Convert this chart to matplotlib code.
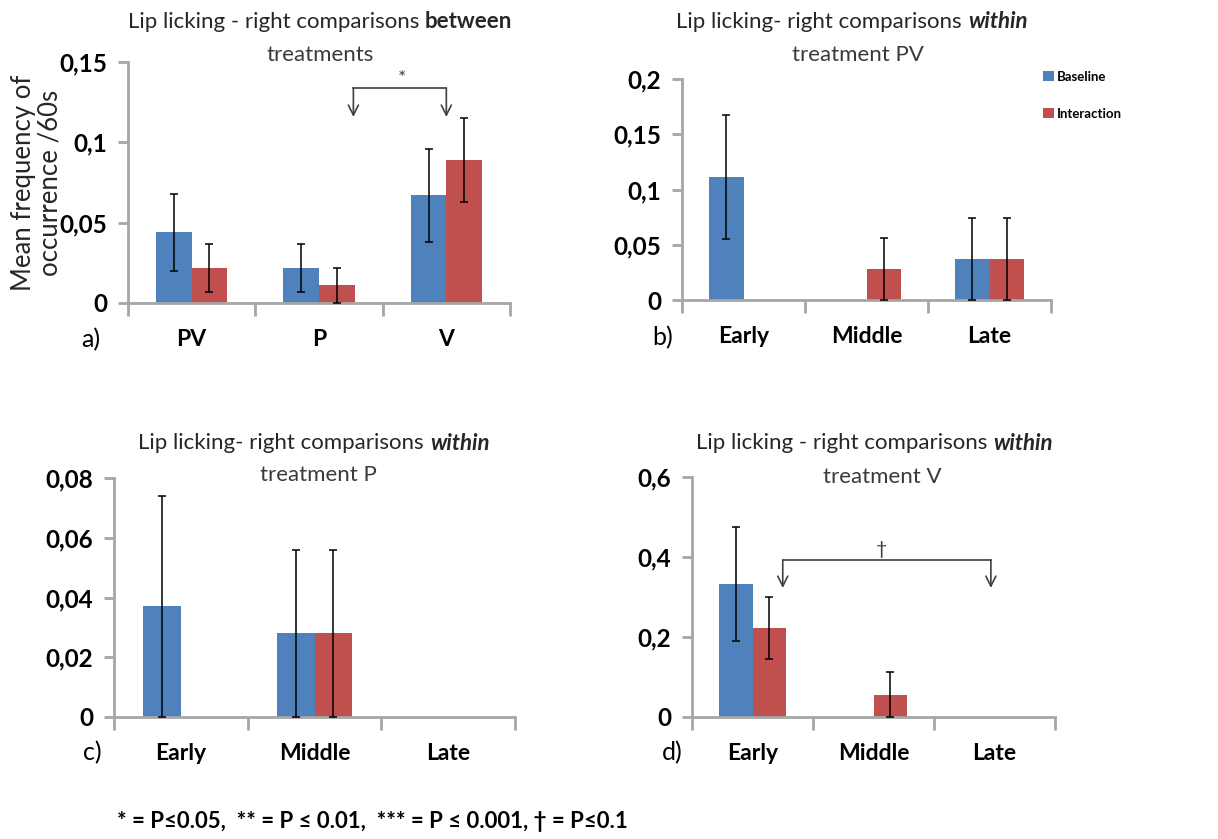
import numpy as np
import matplotlib
matplotlib.use("Agg")
import matplotlib.pyplot as plt

plt.rcParams['font.family'] = ['Lato', 'DejaVu Sans']

# ---- data ----
series = ["Baseline", "Interaction"]
colors = ["#4F81BD", "#C0504D"]

cats_a = ["PV", "P", "V"]
base_a = [0.044, 0.022, 0.067]
base_a_err = [0.024, 0.015, 0.029]
inter_a = [0.022, 0.011, 0.089]
inter_a_err = [0.015, 0.011, 0.026]
yticks_a = [0, 0.05, 0.1, 0.15]
ylabels_a = ["0", "0,05", "0,1", "0,15"]

cats_b = ["Early", "Middle", "Late"]
base_b = [0.111, 0.0, 0.037]
base_b_err = [0.056, 0.0, 0.037]
inter_b = [0.0, 0.028, 0.037]
inter_b_err = [0.0, 0.028, 0.037]
yticks_b = [0, 0.05, 0.1, 0.15, 0.2]
ylabels_b = ["0", "0,05", "0,1", "0,15", "0,2"]

cats_c = ["Early", "Middle", "Late"]
base_c = [0.037, 0.028, 0.0]
base_c_err = [0.037, 0.028, 0.0]
inter_c = [0.0, 0.028, 0.0]
inter_c_err = [0.0, 0.028, 0.0]
yticks_c = [0, 0.02, 0.04, 0.06, 0.08]
ylabels_c = ["0", "0,02", "0,04", "0,06", "0,08"]

cats_d = ["Early", "Middle", "Late"]
base_d = [0.333, 0.0, 0.0]
base_d_err = [0.143, 0.0, 0.0]
inter_d = [0.222, 0.056, 0.0]
inter_d_err = [0.078, 0.056, 0.0]
yticks_d = [0, 0.2, 0.4, 0.6]
ylabels_d = ["0", "0,2", "0,4", "0,6"]

footnote = "* = P\u22640.05,  ** = P \u2264 0.01,  *** = P \u2264 0.001, \u2020 = P\u22640.1"

W, H = 1218, 839
fig = plt.figure(figsize=(W / 100, H / 100), dpi=100)
fig.patch.set_facecolor("white")

GRAY = "#a6a6a6"
TXT = "#262626"
BW = 0.28


def px(x, y):
    # figure pixel (from top-left) -> figure fraction
    return x / W, 1 - y / H


def make_axes(l, t, r, b):
    x0, y1 = px(l, t)
    x1, y0 = px(r, b)
    return fig.add_axes([x0, y0, x1 - x0, y1 - y0])


def draw_panel(ax, cats, base, base_err, inter, inter_err, yt, yl):
    x = np.arange(len(cats))
    bars = []
    for k, (vals, errs) in enumerate([(base, base_err), (inter, inter_err)]):
        xs = x + (k - 0.5) * BW
        b = ax.bar(xs, vals, BW, color=colors[k], label=series[k], zorder=2)
        bars.append(b)
        for xi, v, e in zip(xs, vals, errs):
            if e > 0:
                ax.errorbar(xi, v, yerr=e, fmt="none", ecolor="black",
                            elinewidth=1.1, capsize=3, capthick=1.1, zorder=3)
    ax.set_xlim(-0.5, len(cats) - 0.5)
    ax.set_ylim(yt[0], yt[-1])
    ax.set_yticks(yt, yl)
    ax.set_xticks(np.arange(len(cats) + 1) - 0.5, [""] * (len(cats) + 1))
    ax.set_xticks(x, cats, minor=True)
    for s in ["top", "right"]:
        ax.spines[s].set_visible(False)
    for s in ["left", "bottom"]:
        ax.spines[s].set_color(GRAY)
        ax.spines[s].set_linewidth(2)
    ax.tick_params(axis="y", which="major", length=7, width=2, color=GRAY,
                   labelsize=17.5, labelcolor="black", pad=8)
    ax.tick_params(axis="x", which="major", length=9, width=2, color=GRAY)
    ax.tick_params(axis="x", which="minor", length=0, labelsize=16.5,
                   labelcolor="black", pad=19)
    for lab in ax.get_yticklabels() + ax.get_xticklabels(minor=True):
        lab.set_fontweight("bold")
    return bars


def title(xsplit, y, first, second, style, line2, x2, y2):
    fx, fy = px(xsplit, y)
    fig.text(fx, fy, first, ha="right", va="center", fontsize=16, color=TXT)
    fig.text(fx + 6 / W, fy, second, ha="left", va="center", fontsize=16,
             color=TXT, fontweight="bold", fontstyle=style)
    fx2, fy2 = px(x2, y2)
    fig.text(fx2, fy2, line2, ha="center", va="center", fontsize=16, color="#3a3a3a")


def bracket(ax, x0, x1, ytop, ytip, mark, xm, ym):
    ax.plot([x0, x1], [ytop, ytop], color="#404040", lw=1.2, zorder=4)
    for xx in (x0, x1):
        ax.annotate("", xy=(xx, ytip), xytext=(xx, ytop),
                    arrowprops=dict(arrowstyle="->", color="#404040", lw=1.2,
                                    mutation_scale=18, shrinkA=0, shrinkB=0))
    ax.text(xm, ym, mark, ha="center", va="center", fontsize=14, color="#404040")


ax_a = make_axes(128, 62, 510, 303)
ax_b = make_axes(682, 79, 1051, 300)
ax_c = make_axes(114, 478, 515, 717)
ax_d = make_axes(692, 477, 1055, 717)

draw_panel(ax_a, cats_a, base_a, base_a_err, inter_a, inter_a_err, yticks_a, ylabels_a)
bars_b = draw_panel(ax_b, cats_b, base_b, base_b_err, inter_b, inter_b_err, yticks_b, ylabels_b)
draw_panel(ax_c, cats_c, base_c, base_c_err, inter_c, inter_c_err, yticks_c, ylabels_c)
draw_panel(ax_d, cats_d, base_d, base_d_err, inter_d, inter_d_err, yticks_d, ylabels_d)

ax_a.set_ylabel("Mean frequency of\noccurrence /60s", fontsize=18.5, color=TXT,
                linespacing=1.05)
ax_a.yaxis.set_label_coords(-0.172, 0.5)

bracket(ax_a, 1.27, 2.0, 0.1338, 0.1158, "*", 1.65, 0.1395)
bracket(ax_d, 0.25, 1.97, 0.3925, 0.3225, "\u2020", 1.07, 0.4175)

title(419, 22, "Lip licking - right comparisons", "between", "normal", "treatments", 320, 55)
title(962, 22, "Lip licking- right comparisons", "within", "italic", "treatment PV", 858, 55)
title(424, 443, "Lip licking- right comparisons", "within", "italic", "treatment P", 318, 475)
title(987, 443, "Lip licking - right comparisons", "within", "italic", "treatment V", 882, 477)

for lab, (x, y) in zip(["a)", "b)", "c)", "d)"], [(91, 340), (663, 338), (92, 753), (672, 753)]):
    fx, fy = px(x, y)
    fig.text(fx, fy, lab, ha="center", va="center", fontsize=18, color="black")

lx, ly = px(1036, 64)
fig.legend(handles=bars_b, labels=series, loc="upper left", bbox_to_anchor=(lx, ly),
           frameon=False, prop=dict(size=9.5, weight="bold"), labelspacing=1.9,
           handlelength=0.85, handleheight=0.85, handletextpad=0.2, borderpad=0)

fx, fy = px(372, 822)
fig.text(fx, fy, footnote, ha="center", va="center", fontsize=16,
         fontweight="bold", color="black")

fig.savefig("out.png", dpi=100)
